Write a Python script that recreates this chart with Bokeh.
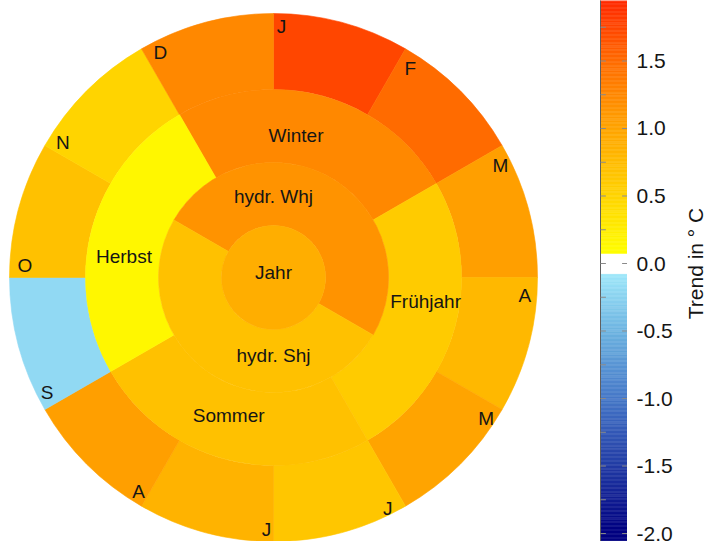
import numpy as np
from bokeh.plotting import figure
from bokeh.layouts import row
from bokeh.models import Range1d, ColumnDataSource, LinearColorMapper
from bokeh.transform import transform
from bokeh.core.properties import value
from bokeh.embed import file_html
from bokeh.resources import INLINE

# ---- data: temperature trend in °C ----
months = ["J", "F", "M", "A", "M", "J", "J", "A", "S", "O", "N", "D"]
month_trend = [1.75, 1.50, 1.05, 0.80, 1.00, 0.65, 0.85, 1.05, -0.20, 0.70, 0.50, 1.25]

seasons = ["Winter", "Frühjahr", "Sommer", "Herbst"]
season_trend = [1.25, 0.60, 0.70, 0.15]
season_first_month = [11, 2, 5, 8]      # Dec, Mar, Jun, Sep

half_years = ["hydr. Whj", "hydr. Shj"]
half_trend = [1.15, 0.70]
half_first_month = [10, 4]              # Nov, May

year_label = "Jahr"
year_trend = 0.90

cbar_ticks = [-2.0, -1.5, -1.0, -0.5, 0.0, 0.5, 1.0, 1.5, 2.0]
cbar_minor = [-1.75, -1.25, -0.75, -0.25, 0.25, 0.75, 1.25, 1.75]
cbar_title = "Trend in ° C"

# ---- colour scale ----
NEG_STOPS = [(-2.0, (0, 0, 128)), (-1.5, (35, 60, 165)), (-1.0, (70, 120, 200)),
             (-0.5, (110, 180, 225)), (-0.075, (160, 232, 250))]
POS_STOPS = [(0.075, (255, 255, 0)), (0.5, (255, 212, 0)), (1.0, (255, 165, 0)),
             (1.5, (255, 108, 0)), (2.0, (255, 35, 0))]


def colour_at(v):
    if -0.075 < v < 0.075:
        return "#ffffff"
    stops = NEG_STOPS if v < 0 else POS_STOPS
    vs = [s[0] for s in stops]
    rgb = [int(round(np.interp(v, vs, [s[1][k] for s in stops]))) for k in range(3)]
    return "#%02x%02x%02x" % tuple(rgb)


N_COL = 512
palette = [colour_at(v) for v in np.linspace(-2.0, 2.0, N_COL)]
mapper = LinearColorMapper(palette=palette, low=-2.0, high=2.0)

FONT = value("Liberation Sans")
TXT = "#151515"


def bare_figure(width, x_range, y_range):
    f = figure(width=width, height=541, x_range=x_range, y_range=y_range,
               x_axis_location=None, y_axis_location=None, toolbar_location=None,
               output_backend="svg", min_border=0)
    f.grid.visible = False
    f.outline_line_color = None
    return f


# ---- sunburst (1 data unit = 1 px) ----
R_YEAR, R_HALF, R_SEASON, R_MONTH = 52, 115, 188, 264
STEP = 30.0

p = bare_figure(590, Range1d(-273, 317), Range1d(-264, 277))


def ring(names, trends, starts, span, r_in, r_out):
    starts = np.array(starts, dtype=float)
    src = ColumnDataSource(dict(name=names, trend=trends, start=starts, end=starts - span))
    p.annular_wedge(x=0, y=0, inner_radius=r_in, outer_radius=r_out,
                    start_angle="start", end_angle="end", start_angle_units="deg",
                    end_angle_units="deg", direction="clock", source=src,
                    fill_color=transform("trend", mapper),
                    line_color=transform("trend", mapper), line_width=0.6)


month_start = [90 - STEP * i for i in range(len(months))]
ring(months, month_trend, month_start, STEP, R_SEASON, R_MONTH)
ring(seasons, season_trend, [90 - STEP * i for i in season_first_month], 3 * STEP, R_HALF, R_SEASON)
ring(half_years, half_trend, [90 - STEP * i for i in half_first_month], 6 * STEP, R_YEAR, R_HALF)

p.circle(x="x", y="y", radius=R_YEAR, fill_color=transform("t", mapper),
         line_color=transform("t", mapper), line_width=0.6,
         source=ColumnDataSource(dict(x=[0], y=[0], t=[year_trend])))


def polar(angles_deg, radii):
    a = np.radians(np.array(angles_deg, dtype=float))
    r = np.array(radii, dtype=float)
    return list(r * np.cos(a)), list(r * np.sin(a))


def labels(xs, ys, texts):
    p.text(x=xs, y=ys, text=texts, text_align="center", text_baseline="middle",
           text_font=FONT, text_font_size="19px", text_color=TXT)


# month names sit just clockwise of each month's leading edge:
# (angle behind the edge in degrees, radius in px)
month_label_at = [(1.8, 251), (3.2, 250), (3.7, 253), (4.1, 252), (3.5, 255), (3.7, 258),
                  (1.6, 252), (2.2, 253), (3.0, 254), (2.8, 249), (2.6, 250), (3.3, 252)]
mx, my = polar([a - d for a, (d, _) in zip(month_start, month_label_at)],
               [r for _, r in month_label_at])
labels(mx, my, months)

season_label_at = [(81, 144), (-9, 154), (-108, 145), (172, 151)]
sx, sy = polar([a for a, _ in season_label_at], [r for _, r in season_label_at])
labels(sx, sy, seasons)

hx, hy = polar([90, -90], [81, 78])
labels(hx, hy, half_years)

labels([0], [5], [year_label])

# ---- colour bar: 27 px wide, 135 px per °C ----
PX_PER_C = 135.0
CB_TOP, CB_BOTTOM = 1.948, -2.059
cb_y = Range1d(CB_BOTTOM, CB_TOP)

cb = bare_figure(37, Range1d(-10 / 27, 1), cb_y)
edges = np.linspace(CB_BOTTOM, CB_TOP, 401)
mids = (edges[:-1] + edges[1:]) / 2
cb.quad(left=0, right=1, bottom="b", top="t",
        fill_color=transform("m", mapper), line_color=transform("m", mapper), line_width=0.5,
        source=ColumnDataSource(dict(b=edges[:-1], t=edges[1:], m=mids)))
# frame line round the bar
cb.quad(left=[0], right=[1], bottom=[CB_BOTTOM], top=[CB_TOP + 1],
        fill_color=None, line_color="#606060", line_width=1)

all_ticks = sorted(cbar_ticks + cbar_minor)
cb.segment(x0=0, x1=0.2, y0=all_ticks, y1=all_ticks, line_color="#8a8a8a", line_width=1)
cb.segment(x0=0.8, x1=1, y0=cbar_ticks, y1=cbar_ticks, line_color="#8a8a8a", line_width=1)

# ---- tick labels and title beside the bar ----
lab = bare_figure(81, Range1d(0, 81), Range1d(CB_BOTTOM, CB_TOP))
# ticks past the bar's visible end are anchored at its edge and shifted outward
anchor = [min(t, CB_TOP - 0.05) for t in cbar_ticks]
shift = [-(t - a) * PX_PER_C for t, a in zip(cbar_ticks, anchor)]
lab.text(x="x", y="y", text="txt", y_offset="dy", text_align="left", text_baseline="middle",
         text_font=FONT, text_font_size="21px", text_color=TXT,
         source=ColumnDataSource(dict(x=[9] * len(cbar_ticks), y=anchor, dy=shift,
                                      txt=["%.1f" % t for t in cbar_ticks])))
lab.text(x=[68], y=[0.0], text=[cbar_title], angle=90, angle_units="deg",
         text_align="center", text_baseline="middle", text_font=FONT,
         text_font_size="21px", text_color=TXT)

layout = row(p, cb, lab)
open("out.html", "w").write(file_html(layout, INLINE))
